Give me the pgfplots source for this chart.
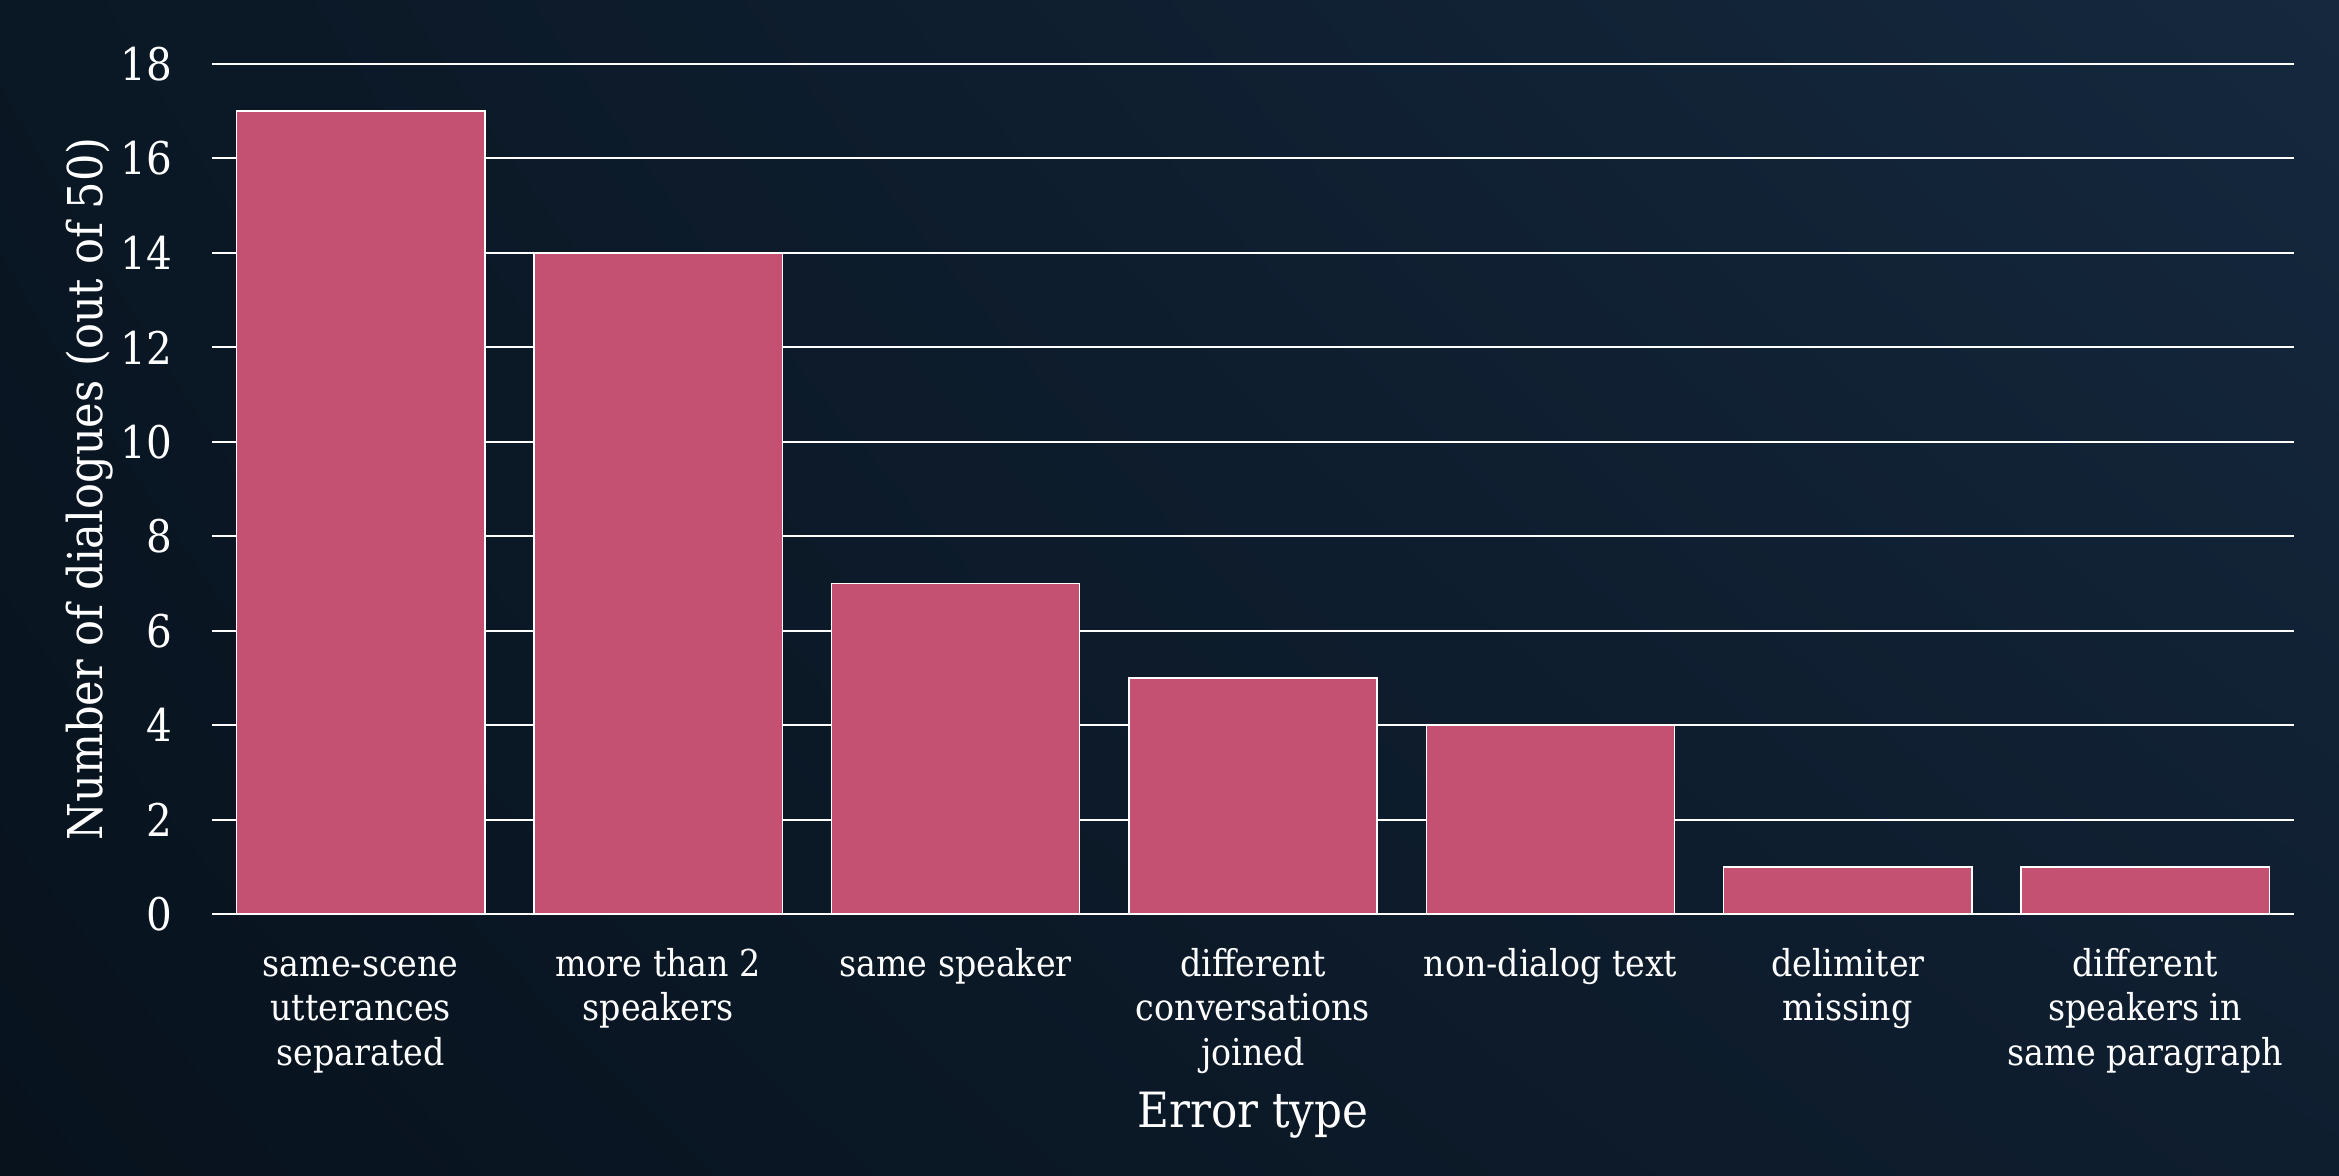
\documentclass[border=0pt]{standalone}
\usepackage{fontspec}
\setmainfont{DejaVu Serif Condensed}
\usepackage{pgfplots}
\pgfplotsset{compat=1.18}
\usetikzlibrary{shadings}
\definecolor{barpink}{HTML}{C45072}
\definecolor{bgul}{HTML}{0A1724}
\definecolor{bgur}{HTML}{15283E}
\definecolor{bgll}{HTML}{07121D}
\definecolor{bglr}{HTML}{0F1E2F}
\begin{document}
\begin{tikzpicture}
\shade[upper left=bgul, upper right=bgur, lower left=bgll, lower right=bglr] (0,0) rectangle (1169.5pt,587.5pt);
\path[use as bounding box] (0,0) rectangle (1169.5pt,587.5pt);
\begin{axis}[
 at={(106pt,130.5pt)}, anchor=south west,
 scale only axis, width=1041pt, height=425pt,
 xmin=-0.5, xmax=6.5, ymin=0, ymax=18,
 ytick={0,2,...,18},
 xtick={0,1,2,3,4,5,6},
 xticklabels={{\vphantom{hd}same-scene\\utterances\\separated},{\vphantom{hd}more than 2\\speakers},{\vphantom{hd}same speaker},{\vphantom{hd}different\\conversations\\joined},{\vphantom{hd}non-dialog text},{\vphantom{hd}delimiter\\missing},{\vphantom{hd}different\\speakers in\\same paragraph}},
 ymajorgrids, grid style={white, line width=1pt},
 axis line style={draw=none},
 major tick length=0pt,
 ybar, bar width=0.835,
 /pgf/number format/assume math mode=true,
 yticklabel style={font=\fontsize{22.5}{27}\selectfont, text=white, xshift=-16.5pt},
 xticklabel style={font=\fontsize{18.5}{22.4}\selectfont, text=white, align=center, anchor=north, yshift=-13.5pt},
 ylabel={Number of dialogues (out of 50)},
 xlabel={Error type},
 ylabel style={at={(axis description cs:-0.059,0.5)}, anchor=center, font=\fontsize{24}{28}\selectfont, text=white},
 xlabel style={at={(axis description cs:0.5,-0.2365)}, anchor=center, font=\fontsize{24.3}{28}\selectfont, text=white},
]
\addplot[fill=barpink, draw=white, line width=0.75pt] coordinates {(0,17) (1,14) (2,7) (3,5) (4,4) (5,1) (6,1)};
\end{axis}
\end{tikzpicture}
\end{document}
